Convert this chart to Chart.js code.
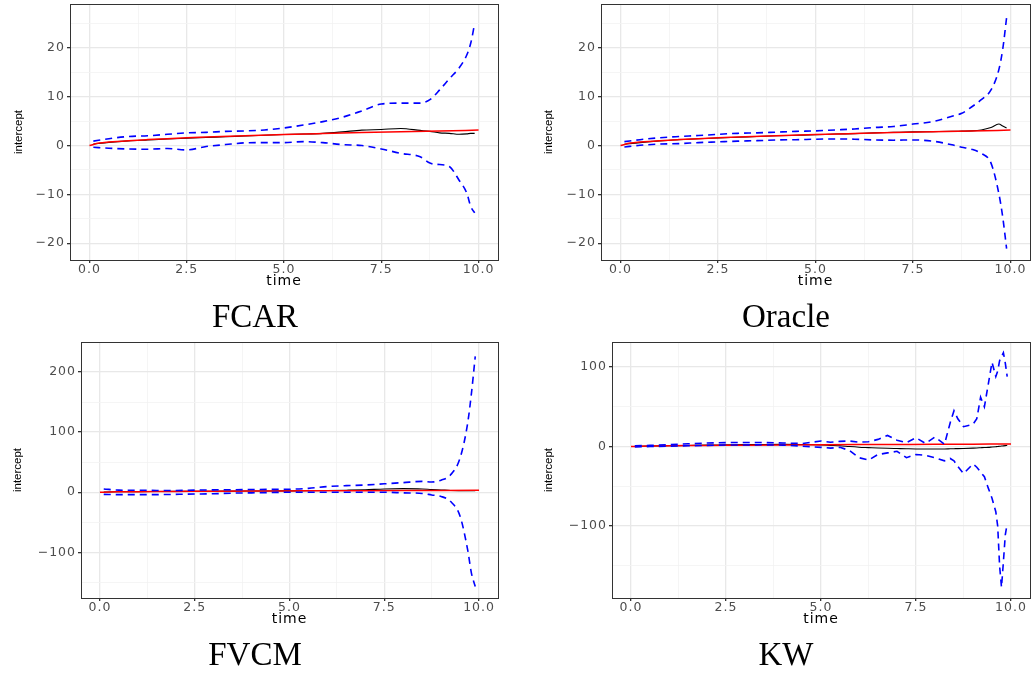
<!DOCTYPE html>
<html>
<head>
<meta charset="utf-8">
<script src="https://cdn.jsdelivr.net/npm/chart.js@4.4.1/dist/chart.umd.min.js"></script>
<style>
  html, body { margin: 0; padding: 0; background: #ffffff; }
  body { width: 1033px; height: 677px; position: relative; overflow: hidden; }
  canvas { position: absolute; }
  .caption {
    position: absolute;
    width: 200px;
    text-align: center;
    font-family: 'Liberation Serif', serif;
    font-size: 33px;
    line-height: 33px;
    color: #000000;
  }
</style>
</head>
<body>
<canvas id="fcar" width="516" height="300" style="left:0px;top:0px"></canvas>
<canvas id="oracle" width="517" height="300" style="left:516px;top:0px"></canvas>
<canvas id="fvcm" width="516" height="320" style="left:0px;top:320px"></canvas>
<canvas id="kw" width="517" height="320" style="left:516px;top:320px"></canvas>

<div class="caption" style="left:155px;top:300px">FCAR</div>
<div class="caption" style="left:686px;top:300px">Oracle</div>
<div class="caption" style="left:155px;top:638px">FVCM</div>
<div class="caption" style="left:686px;top:638px">KW</div>

<script>
// axis ticks
const xTickValues = [0, 2.5, 5, 7.5, 10];
const xTickLabels = ['0.0', '2.5', '5.0', '7.5', '10.0'];
const xMinorTicks = [1.25, 3.75, 6.25, 8.75];

const smallYTicks = [-20, -10, 0, 10, 20];
const smallYLabels = ['\u221220', '\u221210', '0', '10', '20'];
const smallYMinor = [-15, -5, 5, 15, 25];

const fvcmYTicks = [-100, 0, 100, 200];
const fvcmYLabels = ['\u2212100', '0', '100', '200'];
const fvcmYMinor = [-150, -50, 50, 150];

const kwYTicks = [-100, 0, 100];
const kwYLabels = ['\u2212100', '0', '100'];
const kwYMinor = [-150, -50, 50];

// true intercept (red)
const trueTime = [0, 0.25, 0.5, 1, 1.5, 2, 2.5, 3, 4, 5, 6, 7, 8, 9, 10];
const trueValue = [0, 0.5, 0.71, 1, 1.22, 1.41, 1.58, 1.73, 2, 2.24, 2.45, 2.65, 2.83, 3, 3.16];

// time grid for FCAR / Oracle / FVCM estimates and bands
const estTime = [0.1, 0.5, 1, 1.5, 2, 2.5, 3, 3.5, 4, 4.5, 5, 5.5, 6, 6.5, 7, 7.5, 8, 8.5, 8.75, 9, 9.25, 9.5, 9.7, 9.8, 9.9];

const fcarEst = [0.3, 0.65, 0.95, 1.15, 1.35, 1.5, 1.65, 1.8, 1.95, 2.1, 2.25, 2.35, 2.5, 2.8, 3.15, 3.3, 3.5, 3.1, 2.9, 2.6, 2.5, 2.3, 2.4, 2.5, 2.5];
const fcarUpper = [0.9, 1.4, 1.85, 2.0, 2.3, 2.6, 2.7, 2.9, 3.0, 3.2, 3.6, 4.2, 4.9, 5.8, 7.1, 8.5, 8.7, 8.7, 9.4, 11.4, 13.7, 15.9, 18.6, 21, 25];
const fcarLower = [-0.35, -0.55, -0.7, -0.75, -0.6, -0.9, -0.2, 0.2, 0.55, 0.6, 0.6, 0.8, 0.6, 0.2, 0, -0.7, -1.6, -2.3, -3.6, -3.9, -4.3, -7.1, -9.8, -12.5, -13.8];

const oracleEst = [0.25, 0.6, 0.95, 1.2, 1.4, 1.55, 1.7, 1.85, 2.0, 2.1, 2.2, 2.35, 2.45, 2.6, 2.7, 2.8, 2.85, 2.9, 2.95, 3.0, 3.2, 3.7, 4.4, 4.0, 3.6];
const oracleUpper = [0.8, 1.2, 1.6, 1.85, 2.05, 2.3, 2.5, 2.6, 2.75, 2.9, 3.0, 3.2, 3.4, 3.7, 3.9, 4.4, 4.9, 6.0, 6.6, 7.9, 9.4, 11.4, 15.5, 19.7, 26.2];
const oracleLower = [-0.3, 0.05, 0.3, 0.4, 0.6, 0.75, 0.9, 1.0, 1.15, 1.2, 1.3, 1.35, 1.3, 1.15, 1.1, 1.15, 0.9, 0.15, -0.35, -0.75, -1.6, -3.6, -9.8, -14.6, -21.1];

const fvcmEst = [0.3, 0.7, 1, 1.2, 1.4, 1.6, 1.7, 1.9, 2, 2.1, 2.3, 2.4, 2.8, 3.4, 4.2, 5.5, 6, 5.5, 4.5, 3.8, 3, 2.7, 2.6, 2.6, 2.6];
const fvcmUpper = [5.5, 3.5, 3.3, 3, 3, 3.5, 4, 4.2, 4.5, 4.8, 5, 6.5, 9.5, 11, 12, 14, 16, 18, 17, 20, 29, 57, 115, 165, 226];
const fvcmLower = [-3.5, -4, -4, -4, -3.5, -3, -2.5, -1.5, -1, -0.5, 0, 0, 0, 0, 0, 0, -1, -2, -4.5, -7, -15.5, -40, -96, -135, -157];

// KW is jagged, finer grid near the end
const kwTime = [0.1, 0.5, 1, 1.5, 2, 2.5, 3, 3.5, 4, 4.5, 5, 5.25, 5.5, 5.75, 6, 6.25, 6.5, 6.75, 7, 7.25, 7.5, 7.75, 8, 8.25, 8.4, 8.5, 8.6, 8.75, 9, 9.1, 9.2, 9.3, 9.4, 9.5, 9.6, 9.65, 9.7, 9.75, 9.8, 9.85, 9.9];
const kwEst = [0.2, 0.6, 1, 1.4, 1.8, 2.1, 2.4, 2.6, 2.7, 2.5, 2, 1.5, 1, 0, -0.8, -1.3, -1.8, -2.2, -2.5, -2.8, -3, -3, -3, -3, -2.8, -2.7, -2.6, -2.4, -2, -1.8, -1.5, -1.2, -1, -0.6, -0.2, 0, 0.3, 0.6, 0.9, 1.2, 1.5];
const kwUpper = [1, 1.5, 2.5, 3.5, 4.5, 5, 5, 5, 4.5, 3.8, 7, 5.5, 6.5, 7, 5.5, 6, 9, 14, 8, 5, 11, 4, 12, 3, 30, 45, 35, 25, 28, 35, 62, 50, 78, 106, 88, 95, 108, 113, 118, 105, 88];
const kwLower = [-0.5, 0, 0.5, 1, 1.5, 2, 2, 2.2, 1.8, 0.5, -1, -2, -1, -5, -14, -17, -10, -8, -6, -14, -10, -11, -14, -18, -15, -18, -25, -34, -22, -26, -32, -38, -52, -65, -82, -100, -150, -177, -145, -111, -97];

const panels = [
    { id: 'fcar', time: estTime, est: fcarEst, upper: fcarUpper, lower: fcarLower,
      yMin: -23.45, yMax: 29, yTicks: smallYTicks, yLabels: smallYLabels, yMinor: smallYMinor,
      padding: { left: 0, top: 4, right: 18, bottom: 10 }, yWidth: 70, yTitlePad: 11.6, smooth: true },
    { id: 'oracle', time: estTime, est: oracleEst, upper: oracleUpper, lower: oracleLower,
      yMin: -23.45, yMax: 29, yTicks: smallYTicks, yLabels: smallYLabels, yMinor: smallYMinor,
      padding: { left: 0, top: 4, right: 3, bottom: 10 }, yWidth: 85, yTitlePad: 26, smooth: true },
    { id: 'fvcm', time: estTime, est: fvcmEst, upper: fvcmUpper, lower: fvcmLower,
      yMin: -176, yMax: 250, yTicks: fvcmYTicks, yLabels: fvcmYLabels, yMinor: fvcmYMinor,
      padding: { left: 0, top: 22, right: 18, bottom: 12 }, yWidth: 81, yTitlePad: 10.6, smooth: true },
    { id: 'kw', time: kwTime, est: kwEst, upper: kwUpper, lower: kwLower,
      yMin: -190.5, yMax: 131.5, yTicks: kwYTicks, yLabels: kwYLabels, yMinor: kwYMinor,
      padding: { left: 0, top: 22, right: 3, bottom: 12 }, yWidth: 96, yTitlePad: 26.3, smooth: false }
];

const tickFont = { family: 'DejaVu Sans', size: 12.5 };
const tickColor = '#4d4d4d';

function isIn(list, v) {
    return list.some(m => Math.abs(m - v) < 1e-9);
}

function zip(xs, ys) {
    return xs.map((x, i) => ({ x: x, y: ys[i] }));
}

// ggplot-ish axis: major + minor grid, labels only on majors
function axisOptions(majors, labels, minors) {
    return {
        afterBuildTicks: (scale) => {
            scale.ticks = majors.concat(minors)
                .filter(v => v >= scale.min && v <= scale.max)
                .sort((a, b) => a - b)
                .map(v => ({ value: v }));
        },
        ticks: {
            autoSkip: false,
            maxRotation: 0,
            font: tickFont,
            color: tickColor,
            callback: (value) => {
                const i = majors.findIndex(m => Math.abs(m - value) < 1e-9);
                return i >= 0 ? labels[i] : '';
            }
        },
        grid: {
            drawOnChartArea: true,
            drawTicks: true,
            tickLength: 3,
            color: (ctx) => isIn(majors, ctx.tick.value) ? '#e8e8e8' : '#f3f3f3',
            lineWidth: (ctx) => isIn(majors, ctx.tick.value) ? 1.3 : 0.8,
            tickColor: (ctx) => isIn(majors, ctx.tick.value) ? '#333333' : 'rgba(0,0,0,0)'
        },
        border: { display: false }
    };
}

// full frame round the panel, like theme_bw
const panelBorder = {
    id: 'panelBorder',
    afterDraw(chart) {
        const { ctx, chartArea: a } = chart;
        const al = (p) => Math.round(p - 0.5) + 0.5;
        ctx.save();
        ctx.strokeStyle = '#333333';
        ctx.lineWidth = 1;
        ctx.strokeRect(al(a.left), al(a.top), al(a.right) - al(a.left), al(a.bottom) - al(a.top));
        ctx.restore();
    }
};

// the original tick text is stretched wide; spread letters a little, keep the y title plain
const wideText = {
    id: 'wideText',
    beforeDraw(chart) {
        chart.ctx.letterSpacing = '1px';
        const y = chart.scales.y;
        if (!y._plainTitle) {
            const orig = y.drawTitle;
            y.drawTitle = function () {
                const prev = this.ctx.letterSpacing;
                this.ctx.letterSpacing = '0px';
                orig.apply(this, arguments);
                this.ctx.letterSpacing = prev;
            };
            y._plainTitle = true;
        }
    }
};

panels.forEach(p => {
    const interp = p.smooth ? 'monotone' : 'default';
    const xAxis = axisOptions(xTickValues, xTickLabels, xMinorTicks);
    xAxis.type = 'linear';
    xAxis.min = -0.5;
    xAxis.max = 10.5;
    xAxis.ticks.padding = -1;
    xAxis.afterFit = (scale) => {
        scale.height = 30;
        scale.paddingLeft = 0;
        scale.paddingRight = 0;
    };
    xAxis.title = {
        display: true,
        text: 'time',
        color: '#000000',
        font: { family: 'DejaVu Sans', size: 14 },
        padding: { top: 0, bottom: 0 }
    };

    const yAxis = axisOptions(p.yTicks, p.yLabels, p.yMinor);
    yAxis.type = 'linear';
    yAxis.min = p.yMin;
    yAxis.max = p.yMax;
    yAxis.ticks.padding = 2;
    yAxis.afterFit = (scale) => {
        scale.width = p.yWidth;
        scale.paddingTop = 0;
        scale.paddingBottom = 0;
    };
    yAxis.title = {
        display: true,
        text: 'intercept',
        color: '#000000',
        font: { family: 'Liberation Sans', size: 11.5 },
        padding: { top: p.yTitlePad, bottom: 0 }
    };

    new Chart(document.getElementById(p.id), {
        type: 'line',
        data: {
            datasets: [
                {
                    label: 'upper',
                    data: zip(p.time, p.upper),
                    borderColor: '#0000ff',
                    borderWidth: 1.6,
                    borderDash: [7, 5],
                    cubicInterpolationMode: interp,
                    order: 0
                },
                {
                    label: 'lower',
                    data: zip(p.time, p.lower),
                    borderColor: '#0000ff',
                    borderWidth: 1.6,
                    borderDash: [7, 5],
                    cubicInterpolationMode: interp,
                    order: 0
                },
                {
                    label: 'truth',
                    data: zip(trueTime, trueValue),
                    borderColor: '#ff0000',
                    borderWidth: 1.5,
                    cubicInterpolationMode: 'monotone',
                    order: 1
                },
                {
                    label: 'estimate',
                    data: zip(p.time, p.est),
                    borderColor: '#000000',
                    borderWidth: 1.1,
                    cubicInterpolationMode: 'monotone',
                    order: 2
                }
            ]
        },
        options: {
            responsive: false,
            animation: false,
            events: [],
            elements: { point: { radius: 0 } },
            layout: { padding: p.padding },
            plugins: {
                legend: { display: false },
                tooltip: { enabled: false }
            },
            scales: { x: xAxis, y: yAxis }
        },
        plugins: [panelBorder, wideText]
    });
});
</script>
</body>
</html>
